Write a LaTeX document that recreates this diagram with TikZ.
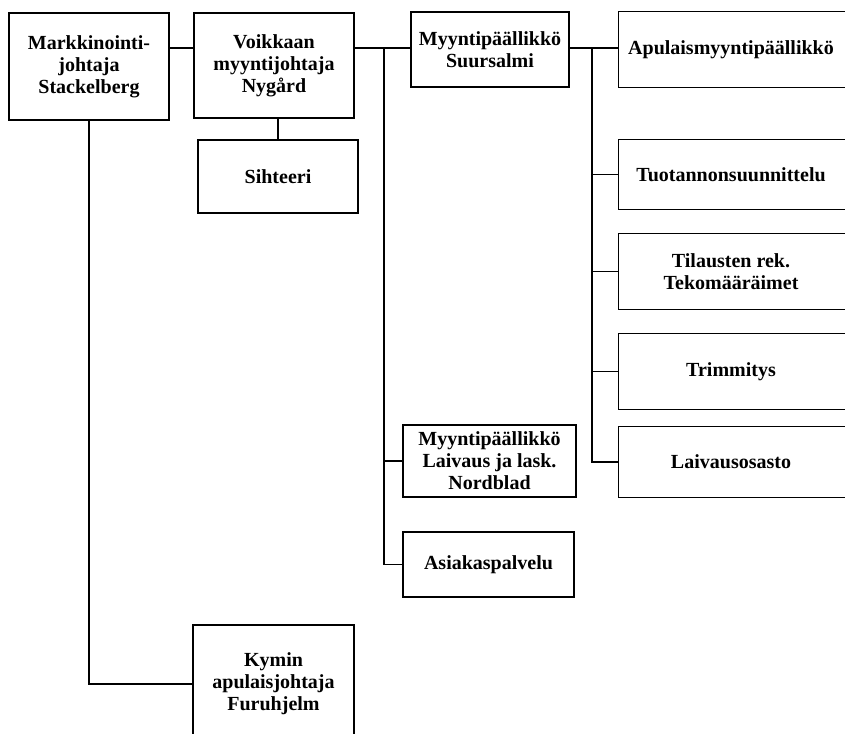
\documentclass[tikz,border=0pt]{standalone}
\usepackage{fontspec}
\setmainfont{Liberation Serif}
\begin{document}
\begin{tikzpicture}[x=0.75pt,y=-0.75pt,
  box/.style={draw, line width=0.9pt, align=center, inner sep=0pt,
    font=\fontsize{15}{16.5}\selectfont\bfseries},
  openbox/.style={box, draw=none, minimum width=168pt},
  link/.style={line width=0.9pt}]
\useasboundingbox (0,0) rectangle (845,733);
\clip (0,0) rectangle (845,733);
\node[box, minimum width=120pt, minimum height=80.25pt] (b1) at (89,66.5) {Markkinointi-\\johtaja\\Stackelberg};
\node[box, minimum width=120pt, minimum height=78.75pt] (b2) at (274,65.5) {Voikkaan\\myyntijohtaja\\Nygård};
\node[box, minimum width=120pt, minimum height=54.75pt] (sih) at (278,176.5) {Sihteeri};
\node[box, minimum width=118.5pt, minimum height=56.25pt] (b4) at (490,49.5) {Myyntipäällikkö\\Suursalmi};
\node[box, minimum width=129.75pt, minimum height=54pt] (nor) at (489.5,461) {Myyntipäällikkö\\Laivaus ja lask.\\Nordblad};
\node[box, minimum width=128.25pt, minimum height=48.75pt] (asi) at (488.5,564.5) {Asiakaspalvelu};
\node[box, minimum width=120.75pt, minimum height=88.5pt] (kym) at (273.5,684) {Kymin\\apulaisjohtaja\\Furuhjelm};
\node[openbox, minimum height=56.25pt] (apu) at (731,49.5) {Apulaismyyntipäällikkö};
\node[openbox, minimum height=51.75pt] (tuo) at (731,174.5) {Tuotannonsuunnittelu};
\node[openbox, minimum height=56.25pt] (til) at (731,271.5) {Tilausten rek.\\Tekomääräimet};
\node[openbox, minimum height=56.25pt] (tri) at (731,371.5) {Trimmitys};
\node[openbox, minimum height=52.5pt] (lai) at (731,462) {Laivausosasto};
\foreach \n in {apu,tuo,til,tri,lai}{
  \draw[link] ([xshift=12pt]\n.north east) -- (\n.north west) -- (\n.south west) -- ([xshift=12pt]\n.south east);
}
\coordinate (r1) at (0,48);
\coordinate (j1) at (384,48);
\coordinate (j2) at (592,48);
\draw[link] (b1.east |- r1) -- (b2.west |- r1);
\draw[link] (b2.east |- r1) -- (b4.west |- r1);
\draw[link] (b4.east |- r1) -- (apu.west |- r1);
\draw[link] (sih.north) -- (sih.north |- b2.south);
\draw[link] (b1.south) |- (kym.west);
\draw[link] (j1) |- (asi.west);
\draw[link] (j1 |- nor.west) -- (nor.west);
\draw[link] (j2) |- (lai.west);
\draw[link] (j2 |- tuo.west) -- (tuo.west);
\draw[link] (j2 |- til.west) -- (til.west);
\draw[link] (j2 |- tri.west) -- (tri.west);
\end{tikzpicture}
\end{document}
